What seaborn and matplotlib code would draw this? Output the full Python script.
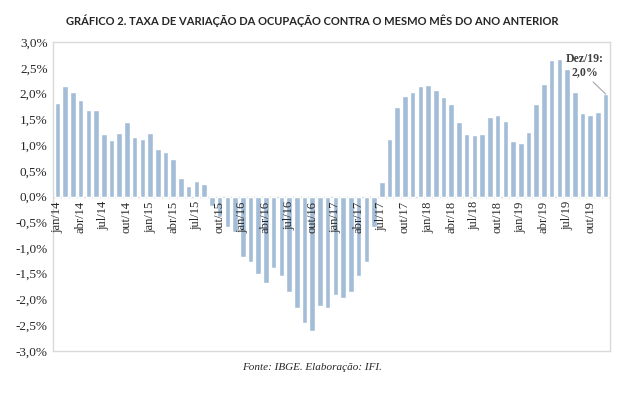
import numpy as np
import pandas as pd
import matplotlib
matplotlib.use("Agg")
import matplotlib.pyplot as plt
import seaborn as sns

# meses em portugues, jan/14 .. dez/19
month_names = ["jan", "fev", "mar", "abr", "mai", "jun",
               "jul", "ago", "set", "out", "nov", "dez"]
years = ["14", "15", "16", "17", "18", "19"]

# taxa de variacao da ocupacao (% a/a)
taxa_2014 = [1.82, 2.14, 2.04, 1.87, 1.69, 1.68, 1.21, 1.09, 1.23, 1.45, 1.15, 1.11]
taxa_2015 = [1.24, 0.93, 0.87, 0.72, 0.36, 0.21, 0.31, 0.24, -0.19, -0.40, -0.60, -0.68]
taxa_2016 = [-1.18, -1.28, -1.51, -1.68, -1.38, -1.54, -1.86, -2.17, -2.46, -2.61, -2.12, -2.16]
taxa_2017 = [-1.92, -1.97, -1.86, -1.54, -1.27, -0.60, 0.29, 1.12, 1.73, 1.95, 2.03, 2.14]
taxa_2018 = [2.16, 2.06, 1.94, 1.79, 1.45, 1.21, 1.19, 1.21, 1.55, 1.58, 1.46, 1.08]
taxa_2019 = [1.03, 1.25, 1.79, 2.18, 2.65, 2.68, 2.47, 2.04, 1.62, 1.58, 1.65, 1.99]

periods = [f"{m}/{y}" for y in years for m in month_names]
values = taxa_2014 + taxa_2015 + taxa_2016 + taxa_2017 + taxa_2018 + taxa_2019

df = pd.DataFrame({"periodo": periods, "taxa": values})

sns.set_style("white")
plt.rcParams["font.family"] = ["Liberation Serif", "DejaVu Serif"]

fig = plt.figure(figsize=(6.18, 3.97), dpi=100)
ax = fig.add_axes([0.086, 0.116, 0.901, 0.778])

sns.barplot(data=df, x="periodo", y="taxa", color="#A3BDD8", saturation=1,
            width=0.72, ax=ax)

ax.set_ylim(-3.0, 3.0)
ax.set_xlim(-0.55, 71.55)
yt = np.arange(-3.0, 3.01, 0.5)
ax.set_yticks(yt)
ax.set_yticklabels([f"{v:.1f}%".replace(".", ",") for v in yt], fontsize=9.5)
ax.tick_params(axis="y", length=0, pad=4)
ax.set_xticks([])
ax.set_xlabel("")
ax.set_ylabel("")
ax.axhline(0, color="#D9D9D9", lw=1, zorder=0)

for s in ax.spines.values():
    s.set_color("#D9D9D9")
    s.set_linewidth(1)

# rotulos trimestrais abaixo do zero
for i, p in enumerate(periods):
    if i % 3 == 0:
        ax.text(i, -0.09, p, rotation=90, ha="center", va="top", fontsize=9, zorder=5)

ax.annotate("Dez/19:\n2,0%", xy=(71, values[-1]), xytext=(68.3, 2.55),
            ha="center", va="center", fontsize=8.5, fontweight="bold",
            color="#404040", linespacing=1.1,
            arrowprops=dict(arrowstyle="-", color="#A6A6A6", lw=0.8,
                            relpos=(0.6, 0), shrinkA=1, shrinkB=0))

fig.text(0.505, 0.948, "GRÁFICO 2. TAXA DE VARIAÇÃO DA OCUPAÇÃO CONTRA O MESMO MÊS DO ANO ANTERIOR",
         ha="center", va="center", fontsize=8.0, fontweight="bold", family="Lato")
fig.text(0.505, 0.075, "Fonte: IBGE. Elaboração: IFI.", ha="center", va="center",
         fontsize=8, style="italic")

fig.savefig("out.png", dpi=100)
